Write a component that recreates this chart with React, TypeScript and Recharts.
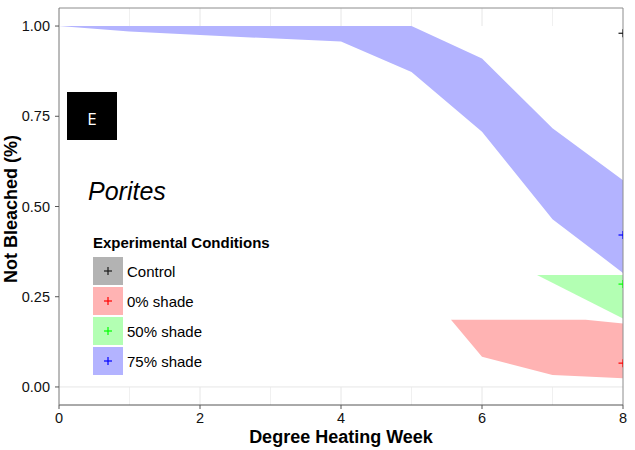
import React from "react";
import {
  Area,
  ComposedChart,
  ReferenceLine,
  Scatter,
  XAxis,
  YAxis,
} from "recharts";

// 75% shade ribbon (blue)
const blueWeeks = [0, 1, 2, 3, 4, 5, 6, 7, 8];
const blueLow = [1.0, 0.985, 0.975, 0.966, 0.957, 0.873, 0.707, 0.465, 0.316];
const blueHigh = [1.0, 1.0, 1.0, 1.0, 1.0, 1.0, 0.91, 0.717, 0.573];

// 0% shade ribbon (red)
const redWeeks = [5.56, 6, 7, 7.47, 8];
const redLow = [0.186, 0.084, 0.033, 0.029, 0.024];
const redHigh = [0.186, 0.186, 0.186, 0.186, 0.176];

// 50% shade ribbon (green)
const greenWeeks = [6.78, 8];
const greenLow = [0.31, 0.19];
const greenHigh = [0.31, 0.31];

// end-point markers at week 8
const conditions = ["Control", "0% shade", "50% shade", "75% shade"];
const markerValues = [0.98, 0.066, 0.285, 0.421];
const markerColors = ["#1a1a1a", "#ff0000", "#00ff00", "#0000ff"];
const keyFills = ["#b3b3b3", "#ffb3b3", "#b3ffb3", "#b3b3ff"];

const xTicks = [0, 2, 4, 6, 8];
const minorX = [1, 2, 3, 4, 5, 6, 7];
const yTicks = [0, 0.25, 0.5, 0.75, 1];

const ribbon = (weeks: number[], low: number[], high: number[]) =>
  weeks.map((w, i) => ({ week: w, range: [low[i], high[i]] }));

const blueData = ribbon(blueWeeks, blueLow, blueHigh);
const redData = ribbon(redWeeks, redLow, redHigh);
const greenData = ribbon(greenWeeks, greenLow, greenHigh);
const markerData = conditions.map((c, i) => ({
  week: 8,
  value: markerValues[i],
  color: markerColors[i],
}));

const FONT = "'Liberation Sans', Arial, Helvetica, sans-serif";

const HalfPlus = (props: any) => {
  const { cx, cy, payload } = props;
  return (
    <g>
      <line x1={cx - 4.5} x2={cx} y1={cy} y2={cy} stroke={payload.color} strokeWidth={1.2} />
      <line x1={cx} x2={cx} y1={cy - 4} y2={cy + 4} stroke={payload.color} strokeWidth={1.2} />
    </g>
  );
};

export default function App() {
  return (
    <div
      style={{
        position: "absolute",
        left: 0,
        top: 0,
        width: 635,
        height: 450,
        background: "#fff",
        fontFamily: FONT,
      }}
    >
      <ComposedChart
        width={635}
        height={450}
        margin={{ top: 8, right: 12, left: 0, bottom: 0 }}
      >
        <XAxis
          dataKey="week"
          type="number"
          domain={[0, 8]}
          ticks={xTicks}
          allowDataOverflow
          height={45}
          tickSize={4}
          tickMargin={4}
          axisLine={{ stroke: "#555" }}
          tickLine={{ stroke: "#555" }}
          tick={{ fill: "#111", fontSize: 14.5, fontFamily: FONT }}
        />
        <YAxis
          type="number"
          domain={[-0.05, 1.05]}
          ticks={yTicks}
          allowDataOverflow
          width={59}
          tickSize={4}
          tickMargin={5}
          axisLine={{ stroke: "#777" }}
          tickLine={{ stroke: "#555" }}
          tick={{ fill: "#111", fontSize: 14.5, fontFamily: FONT }}
          tickFormatter={(v: number) => v.toFixed(2)}
        />
        {minorX.map((x) => (
          <ReferenceLine
            key={`t${x}`}
            segment={[{ x, y: 1 }, { x, y: 1.05 }]}
            stroke={x % 2 === 0 ? "#e6e6e6" : "#f0f0f0"}
          />
        ))}
        {minorX.map((x) => (
          <ReferenceLine
            key={`b${x}`}
            segment={[{ x, y: -0.05 }, { x, y: 0 }]}
            stroke={x % 2 === 0 ? "#e6e6e6" : "#f0f0f0"}
          />
        ))}
        <ReferenceLine y={0} stroke="#e6e6e6" />
        <Area
          data={blueData}
          dataKey="range"
          type="linear"
          stroke="none"
          fill="#b3b3ff"
          fillOpacity={1}
          isAnimationActive={false}
        />
        <Area
          data={redData}
          dataKey="range"
          type="linear"
          stroke="none"
          fill="#ffb3b3"
          fillOpacity={1}
          isAnimationActive={false}
        />
        <Area
          data={greenData}
          dataKey="range"
          type="linear"
          stroke="none"
          fill="#b3ffb3"
          fillOpacity={1}
          isAnimationActive={false}
        />
        <ReferenceLine x={8} stroke="#8c8c8c" />
        <ReferenceLine y={1.05} stroke="#8c8c8c" />
        <Scatter
          data={markerData}
          dataKey="value"
          shape={HalfPlus}
          isAnimationActive={false}
        />
      </ComposedChart>
      <svg
        width={635}
        height={450}
        style={{ position: "absolute", left: 0, top: 0, pointerEvents: "none" }}
      >
        <text
          transform="translate(16.5,209) rotate(-90)"
          textAnchor="middle"
          fontFamily={FONT}
          fontWeight="bold"
          fontSize={18}
          fill="#000"
        >
          Not Bleached (%)
        </text>
        <text
          x={341}
          y={443}
          textAnchor="middle"
          fontFamily={FONT}
          fontWeight="bold"
          fontSize={18}
          fill="#000"
        >
          Degree Heating Week
        </text>
        <rect x={67} y={92} width={50} height={48} fill="#000" />
        <text
          x={92}
          y={124.5}
          textAnchor="middle"
          fontFamily="'Open Sans', 'DejaVu Sans', sans-serif"
          fontSize={17}
          fill="#fff"
        >
          E
        </text>
        <text
          x={88}
          y={200}
          fontFamily={FONT}
          fontStyle="italic"
          fontSize={25}
          fill="#000"
        >
          Porites
        </text>
        <text
          x={93}
          y={248}
          fontFamily={FONT}
          fontWeight="bold"
          fontSize={15}
          fill="#000"
        >
          Experimental Conditions
        </text>
        {conditions.map((c, i) => {
          const top = 257 + i * 30;
          return (
            <g key={c}>
              <rect x={93} y={top} width={30} height={28} fill={keyFills[i]} />
              <line x1={104} x2={112} y1={top + 14} y2={top + 14} stroke={markerColors[i]} strokeWidth={1.2} />
              <line x1={108} x2={108} y1={top + 10} y2={top + 18} stroke={markerColors[i]} strokeWidth={1.2} />
              <text x={127} y={top + 19.5} fontFamily={FONT} fontSize={15} fill="#000">
                {c}
              </text>
            </g>
          );
        })}
      </svg>
    </div>
  );
}
